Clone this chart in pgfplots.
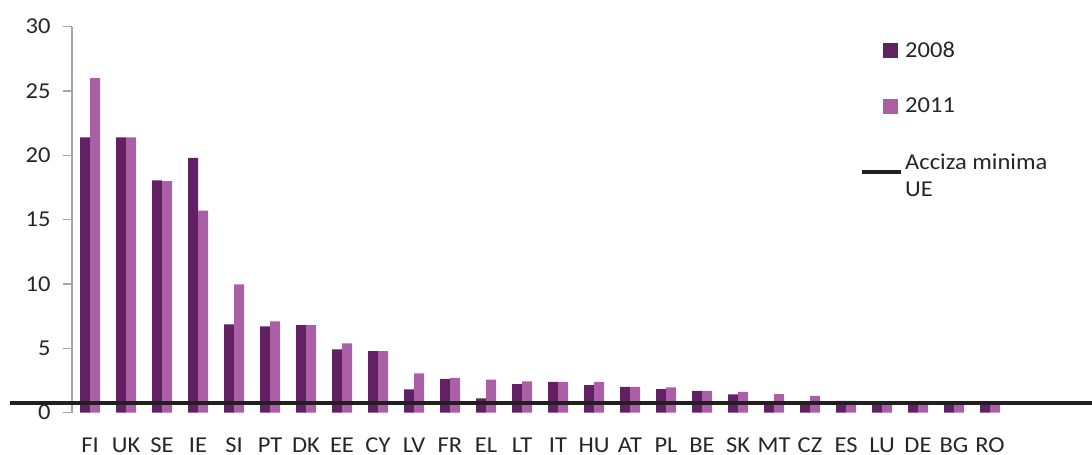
\documentclass[border=0pt]{standalone}
\usepackage{pgfplots}
\pgfplotsset{compat=1.18}
\usepackage{fontspec}
\setmainfont{Carlito}[FakeStretch=1.08]
\definecolor{c2008}{RGB}{98,33,99}
\definecolor{c2011}{RGB}{170,95,167}
\definecolor{txt}{RGB}{38,38,38}
\definecolor{axgrey}{RGB}{165,165,165}
\definecolor{minline}{RGB}{35,31,32}
\begin{document}
\begin{tikzpicture}[x=1pt,y=1pt]
\path[use as bounding box] (0,0) rectangle (1092,455);
\begin{axis}[
  at={(72pt,42.3pt)}, anchor=south west,
  scale only axis, width=936pt, height=386pt,
  xmin=-0.5, xmax=25.5, ymin=0, ymax=30,
  clip=false,
  axis x line*=bottom, axis y line*=left,
  x axis line style={draw=none},
  y axis line style={axgrey, line width=1.2pt, -},
  xtick={0,...,25},
  xticklabels={FI,UK,SE,IE,SI,PT,DK,EE,CY,LV,FR,EL,LT,IT,HU,AT,PL,BE,SK,MT,CZ,ES,LU,DE,BG,RO},
  xtick style={draw=none},
  ytick={0,5,...,30},
  ytick style={axgrey, line width=1.2pt},
  tick align=outside, major tick length=9pt,
  ticklabel style={font=\fontsize{22.7}{27}\selectfont, text=txt},
  /pgf/number format/assume math mode=true,
  xticklabel style={inner sep=0pt, yshift=-16pt},
  yticklabel style={xshift=-9pt},
  legend style={at={(0.8387,0.9707)}, anchor=north west, draw=none, fill=none,
    font=\fontsize{22.7}{27}\selectfont, text=txt, row sep=35pt, cells={align=left}},
  legend cell align=left,
]
\addplot[ybar, bar width=10pt, bar shift=-5pt, fill=c2008, draw=none,
  legend image code/.code={\path (0pt,0pt) (39pt,0pt); \fill[c2008] (21pt,-7.5pt) rectangle (36pt,7.5pt);}]
  coordinates {(0,21.4) (1,21.4) (2,18.05) (3,19.8) (4,6.87) (5,6.71) (6,6.81) (7,4.93) (8,4.79)
  (9,1.82) (10,2.62) (11,1.12) (12,2.23) (13,2.39) (14,2.15) (15,2.0) (16,1.84) (17,1.69) (18,1.43)
  (19,0.6) (20,0.6) (21,0.91) (22,0.6) (23,0.6) (24,0.6) (25,0.6)};
\addlegendentry{2008}
\addplot[ybar, bar width=10pt, bar shift=5pt, fill=c2011, draw=none,
  legend image code/.code={\path (0pt,0pt) (39pt,0pt); \fill[c2011] (21pt,-7.5pt) rectangle (36pt,7.5pt);}]
  coordinates {(0,26.0) (1,21.4) (2,18.0) (3,15.7) (4,9.98) (5,7.1) (6,6.81) (7,5.39) (8,4.79)
  (9,3.06) (10,2.70) (11,2.57) (12,2.44) (13,2.39) (14,2.39) (15,2.0) (16,1.97) (17,1.69) (18,1.61)
  (19,1.45) (20,1.30) (21,0.91) (22,0.6) (23,0.6) (24,0.6) (25,0.6)};
\addlegendentry{2011}
\addplot[minline, line width=4pt, mark=none,
  legend image code/.code={\draw[minline, line width=4pt] (0pt,4pt) -- (39pt,4pt);}]
  coordinates {(-2.22,0.73) (27.83,0.73)};
\addlegendentry{Acciza minima\\UE}
\end{axis}
\end{tikzpicture}
\end{document}
